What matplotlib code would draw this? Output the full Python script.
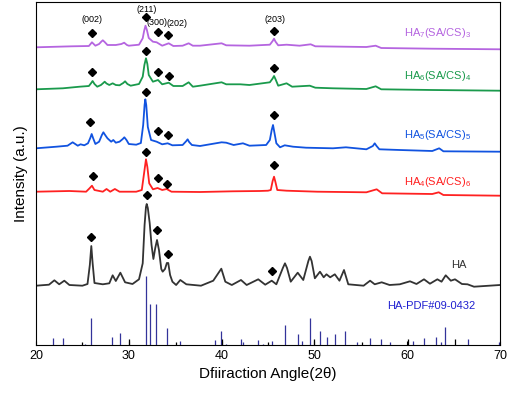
import matplotlib
matplotlib.use("Agg")
import matplotlib.pyplot as plt

plt.rcParams['font.family'] = ['Liberation Sans', 'DejaVu Sans']
plt.rcParams['mathtext.fontset'] = 'custom'
plt.rcParams['mathtext.rm'] = 'Liberation Sans'
plt.rcParams['mathtext.it'] = 'Liberation Sans'

# HA7(SA/CS)3 (purple)
x7 = [20.0, 23.9, 25.7, 26.03, 26.4, 26.8, 27.05, 27.2, 27.4, 27.7, 28.6, 29.2, 29.5, 29.8, 30.0, 31.1, 31.5,
      31.65, 31.8, 31.95, 32.15, 32.6, 33.0, 33.6, 34.3, 34.8, 35.8, 36.45, 36.9, 37.67, 40.0, 40.5, 43.0, 45.2,
      45.5, 45.65, 45.8, 46.1, 47.0, 48.4, 49.6, 50.1, 55.6, 56.6, 57.2, 62.7, 70.0]
y7 = [297.7, 298.7, 299.0, 302.7, 299.3, 301.0, 303.5, 304.7, 303.0, 300.0, 300.0, 301.0, 302.3, 300.0, 299.3,
      300.3, 306.7, 314.0, 319.3, 315.0, 307.0, 303.3, 302.7, 299.3, 301.7, 299.0, 299.3, 301.7, 299.3, 299.3,
      301.7, 299.7, 299.3, 300.3, 304.0, 306.3, 303.5, 299.7, 300.3, 299.3, 300.7, 298.7, 298.0, 299.3, 297.0,
      296.3, 295.7]

# HA6(SA/CS)4 (green)
x6 = [20.0, 22.9, 24.7, 25.7, 25.95, 26.1, 26.3, 26.6, 27.0, 27.25, 27.4, 27.6, 27.9, 28.26, 28.6, 29.0,
      29.4, 29.6, 29.85, 30.2, 31.1, 31.5, 31.68, 31.85, 32.0, 32.15, 32.6, 33.15, 33.6, 34.3, 34.8, 35.8,
      36.45, 36.9, 37.67, 40.0, 40.5, 42.0, 43.0, 45.2, 45.5, 45.65, 45.8, 46.1, 47.0, 47.6, 49.5, 50.1, 52.0,
      55.6, 56.6, 57.2, 62.7, 70.0]
y6 = [255.7, 256.7, 258.3, 259.0, 262.0, 264.0, 261.0, 258.3, 260.0, 262.0, 263.3, 261.5, 260.0, 261.7, 260.0,
      259.7, 262.0, 263.7, 261.0, 259.3, 261.0, 268.3, 280.0, 286.7, 281.0, 270.0, 263.3, 265.0, 260.7, 262.3,
      259.0, 259.0, 262.7, 258.3, 259.3, 262.7, 260.7, 260.7, 260.0, 262.7, 266.5, 269.0, 266.0, 259.3, 261.7,
      258.3, 259.3, 257.3, 256.7, 256.0, 258.7, 255.7, 255.0, 254.3]

# HA5(SA/CS)5 (blue)
x5 = [20.0, 22.2, 23.4, 23.95, 24.5, 24.8, 25.2, 25.6, 25.85, 26.0, 26.15, 26.4, 26.8, 27.1, 27.26, 27.45,
      27.7, 28.1, 28.33, 28.6, 29.0, 29.35, 29.52, 29.75, 30.0, 30.8, 31.3, 31.55, 31.7, 31.78, 31.88, 32.05,
      32.4, 33.0, 33.6, 34.19, 34.7, 35.8, 36.2, 36.34, 36.5, 36.8, 37.67, 40.0, 40.5, 41.3, 42.3, 43.0, 44.8,
      45.2, 45.4, 45.54, 45.7, 45.9, 46.3, 46.8, 47.7, 49.1, 52.0, 53.4, 55.6, 56.3, 56.5, 56.7, 57.0, 59.2,
      62.7, 63.45, 63.9, 70.0]
y5 = [196.7, 198.3, 199.3, 202.7, 199.3, 200.7, 199.7, 201.7, 207.0, 211.0, 207.0, 201.0, 203.3, 210.0, 212.7,
      210.0, 206.7, 203.3, 205.0, 202.3, 203.3, 206.0, 207.7, 205.0, 201.0, 200.3, 202.0, 220.0, 240.0, 245.7,
      240.0, 218.0, 205.0, 203.3, 200.7, 201.7, 199.7, 200.0, 204.0, 205.7, 203.0, 200.0, 199.0, 202.7, 202.3,
      200.0, 201.7, 199.3, 200.0, 205.0, 215.0, 220.0, 212.0, 201.7, 197.7, 199.7, 198.3, 197.3, 196.7, 197.7,
      195.7, 199.0, 201.7, 199.0, 195.7, 195.0, 194.0, 196.7, 193.7, 193.3]

# HA4(SA/CS)6 (red)
x4 = [20.0, 23.6, 25.4, 25.75, 26.03, 26.3, 27.2, 27.6, 28.0, 28.5, 29.0, 30.8, 31.4, 31.65, 31.85, 32.0,
      32.2, 32.6, 33.1, 33.6, 34.08, 34.6, 37.67, 41.2, 44.1, 45.0, 45.3, 45.5, 45.65, 45.8, 46.0, 47.0, 50.3,
      55.6, 56.71, 57.3, 62.7, 63.4, 63.9, 70.0]
y4 = [153.3, 154.0, 153.3, 156.5, 159.3, 155.0, 153.3, 156.0, 153.3, 156.0, 153.3, 153.3, 155.0, 172.0, 185.7,
      178.0, 161.7, 155.7, 157.0, 155.0, 156.0, 153.3, 153.0, 153.7, 154.0, 154.3, 155.0, 164.0, 168.3, 163.0,
      155.0, 154.3, 153.3, 152.7, 155.7, 151.7, 151.0, 152.7, 150.0, 149.3]

# HA (black)
xh = [20.0, 21.4, 21.98, 22.5, 23.05, 23.6, 25.0, 25.55, 25.8, 25.96, 26.1, 26.3, 27.2, 27.9, 28.26, 28.6,
      29.09, 29.6, 30.4, 31.1, 31.5, 31.7, 31.85, 31.93, 32.05, 32.25, 32.45, 32.65, 32.85, 33.04, 33.25, 33.5,
      33.65, 33.9, 34.1, 34.25, 34.45, 34.7, 35.1, 35.55, 36.2, 37.78, 39.1, 39.97, 40.4, 41.1, 42.09, 42.7,
      43.95, 44.7, 45.4, 45.9, 46.6, 46.83, 47.05, 47.45, 48.2, 48.8, 49.35, 49.52, 49.7, 50.05, 50.6, 51.0,
      51.3, 51.7, 52.2, 52.7, 53.19, 53.65, 55.3, 56.0, 56.5, 57.25, 58.1, 59.2, 60.3, 61.0, 61.81, 62.45,
      63.25, 63.7, 64.15, 64.7, 65.15, 65.9, 66.5, 67.2, 70.0]
yh = [59.3, 60.3, 64.7, 60.7, 64.3, 60.0, 59.3, 61.0, 80.0, 99.0, 82.0, 62.0, 60.7, 61.7, 69.7, 64.0, 72.3,
      62.7, 61.0, 65.7, 81.7, 120.0, 138.0, 141.0, 137.0, 122.0, 100.0, 86.0, 97.0, 105.0, 95.0, 76.0, 73.3,
      76.0, 82.0, 82.0, 70.0, 63.3, 60.0, 65.0, 60.7, 59.3, 64.3, 76.3, 63.3, 60.0, 65.0, 60.0, 65.7, 60.3,
      64.3, 60.7, 77.0, 81.7, 77.0, 63.3, 72.3, 65.0, 84.0, 88.3, 84.0, 66.7, 73.3, 67.7, 70.7, 67.7, 70.7,
      64.3, 75.0, 60.7, 59.3, 64.3, 60.7, 62.7, 60.0, 60.7, 63.7, 61.0, 65.7, 61.3, 65.7, 63.3, 69.7, 64.3,
      65.7, 61.0, 60.7, 58.3, 60.0]

# HA-PDF#09-0432 reference sticks
stick_blue_x = [21.8, 22.9, 25.3, 25.9, 28.2, 29.0, 31.8, 32.3, 32.9, 34.1, 35.5, 39.3, 39.9, 40.5, 42.1,
                42.3, 43.9, 44.5, 45.4, 46.8, 48.2, 48.7, 49.5, 50.6, 51.4, 52.2, 53.3, 54.6, 56.0, 57.2,
                58.1, 60.6, 61.8, 63.1, 63.6, 64.1, 66.6, 69.9]
stick_blue_h = [6.7, 6.7, 1.5, 27.3, 8.0, 12.3, 69.0, 41.3, 41.3, 17.0, 4.3, 5.3, 13.7, 1.3, 6.3,
                2.7, 5.3, 1.5, 4.0, 20.3, 10.7, 4.0, 27.3, 13.7, 8.0, 11.0, 13.7, 2.7, 6.7, 5.7,
                2.7, 4.3, 7.0, 8.3, 2.7, 17.7, 5.7, 2.7]
stick_black_x = [25.0, 30.0, 35.1, 40.0, 45.0, 50.0, 55.1, 60.1, 65.1]
stick_black_h = [2.7, 6.3, 2.7, 6.3, 2.7, 6.3, 2.7, 6.3, 6.3]

# diamond markers
dia_x = [26.0, 31.9, 33.1, 34.2, 45.7,
         26.0, 31.9, 33.2, 34.3, 45.7,
         25.8, 31.8, 33.1, 34.2, 45.65,
         26.1, 31.9, 33.1, 34.1, 45.65,
         25.96, 31.93, 33.0, 34.2, 45.4]
dia_y = [311.7, 327.7, 312.7, 309.7, 314.3,
         272.7, 294.3, 273.3, 269.3, 277.3,
         222.7, 253.0, 213.7, 210.0, 229.7,
         169.3, 193.3, 167.0, 161.3, 179.7,
         108.0, 150.0, 115.0, 91.0, 73.7]

hkl_labels = ['(002)', '(211)', '(300)', '(202)', '(203)']
hkl_x = [26.0, 31.9, 33.0, 35.2, 45.75]
hkl_y = [325.0, 335.7, 322.7, 321.0, 325.7]

series_labels = [r'HA$_7$(SA/CS)$_3$', r'HA$_6$(SA/CS)$_4$', r'HA$_5$(SA/CS)$_5$',
                 r'HA$_4$(SA/CS)$_6$', 'HA', 'HA-PDF#09-0432']
label_x = [59.7, 59.7, 59.7, 59.7, 64.7, 57.85]
label_y = [311.7, 269.0, 210.0, 163.3, 80.0, 39.3]
colors = ['#b565e0', '#1a9a4c', '#1153e0', '#ff2121', '#333333', '#2020d0']

fig = plt.figure(figsize=(5.1, 3.96), dpi=100)
ax = fig.add_axes([36 / 510, 51 / 396, 464 / 510, 343 / 396])

for xs, ys, c in zip([x7, x6, x5, x4, xh], [y7, y6, y5, y4, yh], colors[:5]):
    ax.plot(xs, ys, color=c, lw=1.3, solid_joinstyle='round')

ax.vlines(stick_blue_x, 0, stick_blue_h, color='#33339a', lw=0.9)
ax.vlines(stick_black_x, 0, stick_black_h, color='black', lw=0.9)

ax.plot(dia_x, dia_y, 'D', color='black', ms=3.8, ls='none')

for t, xx, yy in zip(hkl_labels, hkl_x, hkl_y):
    ax.text(xx, yy, t, fontsize=6.5, ha='center', va='center')

for t, xx, yy, c in zip(series_labels, label_x, label_y, colors):
    ax.text(xx, yy, t, fontsize=8, color=c, ha='left', va='center')

ax.set_xlim(20, 70)
ax.set_ylim(0, 343)
ax.set_xticks([20, 30, 40, 50, 60, 70])
ax.set_yticks([])
ax.tick_params(axis='x', direction='in', length=3, labelsize=9)
ax.set_xlabel('Dfiiraction Angle(2θ)', fontsize=11)
ax.set_ylabel('Intensity (a.u.)', fontsize=11, labelpad=6)

fig.savefig('out.png', dpi=100)
